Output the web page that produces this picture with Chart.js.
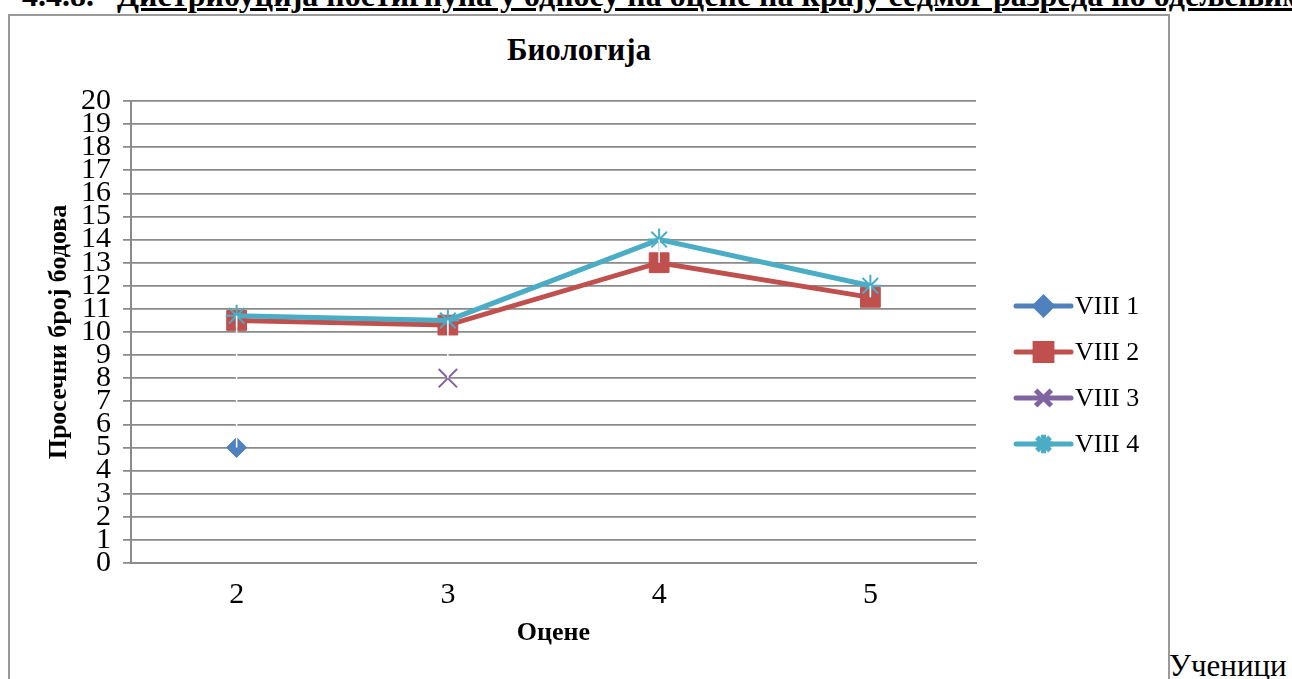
<!DOCTYPE html>
<html>
<head>
<meta charset="utf-8">
<script src="https://cdn.jsdelivr.net/npm/chart.js@4"></script>
<style>
  html, body { margin: 0; padding: 0; background: #fff; overflow: hidden; }
  body { width: 1292px; height: 679px; position: relative; font-family: "Liberation Serif", "Times New Roman", serif; }
  #heading { position: absolute; top: -21px; left: 22px; white-space: nowrap; font-size: 32px; line-height: 32px; font-weight: bold; color: #000; }
  #heading .num { position: absolute; left: 0; }
  #heading .txt { position: absolute; left: 95px; text-decoration: underline; text-decoration-thickness: 3px; text-underline-offset: 2px; }
  #box { position: absolute; left: 8px; top: 14px; width: 1158px; height: 700px; border: 2px solid #9a9a9a; }
  #title { position: absolute; left: 0; width: 1158px; top: 34px; font-size: 31px; font-weight: bold; text-align: center; line-height: 32px; }
  #after { position: absolute; left: 1169px; top: 650px; font-size: 31px; line-height: 32px; }
  canvas { position: absolute; left: 0; top: 0; }
</style>
</head>
<body>
<div id="heading"><span class="num">4.4.8.</span><span class="txt">Дистрибуција постигнућа у односу на оцене на крају седмог разреда по одељењима</span></div>
<div id="box"></div>
<div id="title">Биологија</div>
<div id="after">Ученици</div>
<canvas id="chart" width="1292" height="679"></canvas>
<script>
// values
const categories = ["2", "3", "4", "5"];
const viii1 = [5, null, null, null];
const viii2 = [10.5, 10.3, 13, 11.5];
const viii3 = [null, 8, null, null];
const viii4 = [10.7, 10.5, 14, 12];
const seriesNames = ["VIII 1", "VIII 2", "VIII 3", "VIII 4"];

const FONT = "Liberation Serif";

// white high-low lines between the highest and lowest value of each category
const highLowLines = {
  id: "highLowLines",
  afterDatasetsDraw(chart) {
    const { ctx, scales } = chart;
    ctx.save();
    ctx.strokeStyle = "#ffffff";
    ctx.lineWidth = 1.5;
    categories.forEach((c, i) => {
      const vals = chart.data.datasets
        .map((ds) => ds.data[i])
        .filter((v) => v !== null && v !== undefined);
      if (vals.length < 2) return;
      const x = scales.x.getPixelForValue(i);
      ctx.beginPath();
      ctx.moveTo(x, scales.y.getPixelForValue(Math.max(...vals)));
      ctx.lineTo(x, scales.y.getPixelForValue(Math.min(...vals)));
      ctx.stroke();
    });
    ctx.restore();
  },
};

// legend drawn like Excel: line sample with the marker in the middle
const sideLegend = {
  id: "sideLegend",
  afterDraw(chart) {
    const ctx = chart.ctx;
    const x0 = 1016, x1 = 1071, y0 = 306, gap = 46;
    ctx.save();
    chart.data.datasets.forEach((ds, i) => {
      const y = y0 + i * gap;
      ctx.strokeStyle = ds.borderColor;
      ctx.lineWidth = 5;
      ctx.lineCap = "round";
      ctx.beginPath();
      ctx.moveTo(x0, y);
      ctx.lineTo(x1, y);
      ctx.stroke();
      ctx.lineCap = "butt";
      ctx.fillStyle = ds.pointBackgroundColor;
      ctx.strokeStyle = ds.pointBorderColor;
      Chart.helpers.drawPoint(ctx, {
        pointStyle: ds.pointStyle,
        radius: ds.pointRadius * 0.85,
        rotation: 0,
        borderWidth: ds.pointBorderWidth,
      }, (x0 + x1) / 2, y);
      ctx.fillStyle = "#000";
      ctx.font = "26px '" + FONT + "'";
      ctx.textAlign = "left";
      ctx.textBaseline = "middle";
      ctx.fillText(ds.label, x1 + 4, y + 1);
    });
    ctx.restore();
  },
};

function series(label, data, color, style, radius, lineWidth, markerWidth, order) {
  return {
    label: label,
    data: data,
    borderColor: color,
    backgroundColor: color,
    borderWidth: lineWidth,
    pointStyle: style,
    pointRadius: radius,
    pointHoverRadius: radius,
    pointBackgroundColor: color,
    pointBorderColor: color,
    pointBorderWidth: markerWidth,
    tension: 0,
    spanGaps: false,
    order: order,
  };
}

new Chart(document.getElementById("chart"), {
  type: "line",
  data: {
    labels: categories,
    datasets: [
      series(seriesNames[0], viii1, "#4f81bd", "rectRot", 10, 5, 1, 4),
      series(seriesNames[1], viii2, "#c0504d", "rect", 14, 5, 1, 3),
      series(seriesNames[2], viii3, "#8064a2", "crossRot", 13, 5, 2, 2),
      series(seriesNames[3], viii4, "#4bacc6", "star", 11, 5, 2, 1),
    ],
  },
  options: {
    responsive: false,
    animation: false,
    layout: { padding: { top: 101, left: 0, right: 316, bottom: 0 } },
    plugins: {
      legend: { display: false },
      tooltip: { enabled: false },
      title: { display: false },
    },
    scales: {
      x: {
        offset: true,
        afterFit: (s) => { s.height = 116; },
        grid: { display: false, drawTicks: false },
        border: { display: true, color: "#8a8a8a", width: 2 },
        ticks: { color: "#000", font: { family: FONT, size: 30 }, padding: 14 },
        title: {
          display: true,
          text: "Оцене",
          color: "#000",
          font: { family: FONT, size: 26, weight: "bold" },
          padding: { top: 0, bottom: 30 },
        },
      },
      y: {
        min: 0,
        max: 20,
        afterFit: (s) => { s.width = 131; },
        grid: { color: "#8a8a8a", lineWidth: 1.75, tickLength: 8, drawTicks: true },
        border: { display: true, color: "#8a8a8a", width: 2 },
        ticks: { stepSize: 1, autoSkip: false, color: "#000", font: { family: FONT, size: 30, lineHeight: 0.75 }, padding: 12 },
        title: {
          display: true,
          text: "Просечни број бодова",
          color: "#000",
          font: { family: FONT, size: 26, weight: "bold" },
          padding: { top: 44, bottom: 0 },
        },
      },
    },
  },
  plugins: [highLowLines, sideLegend],
});
</script>
</body>
</html>
